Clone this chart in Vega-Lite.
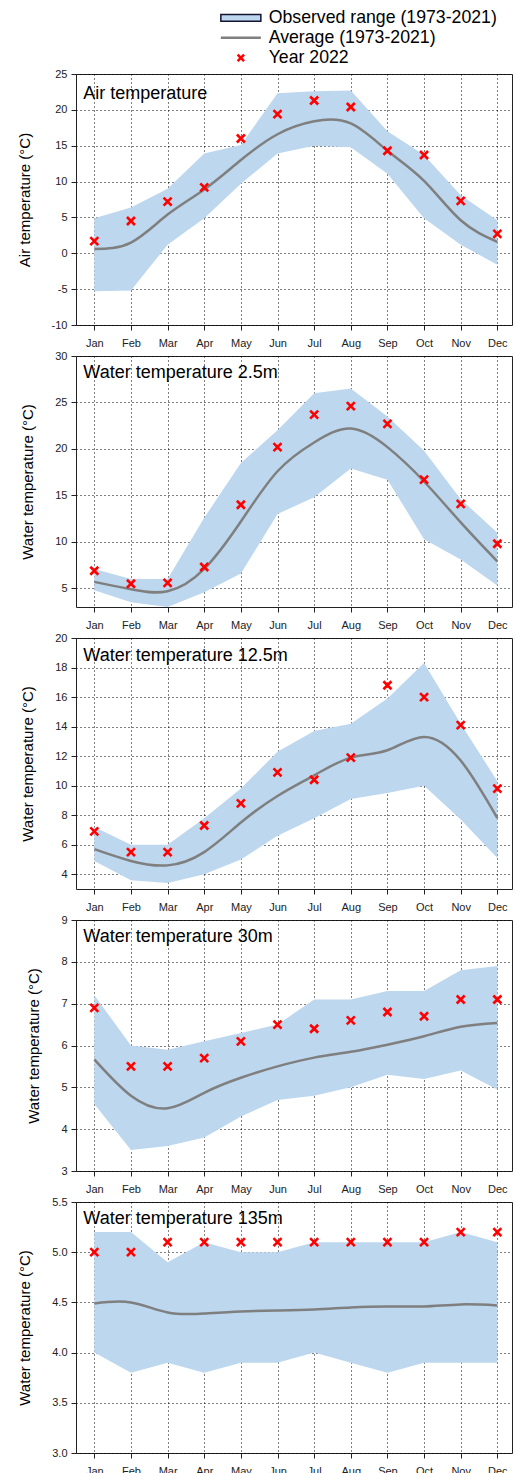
{
  "$schema": "https://vega.github.io/schema/vega-lite/v6.json",
  "autosize": {"type": "pad"},
  "padding": {"left": 16, "top": 9, "right": 4, "bottom": 0},
  "background": "white",
  "config": {
    "font": "Liberation Sans",
    "view": {"stroke": "#222", "strokeWidth": 1},
    "axis": {
      "labelFont": "Liberation Sans", "labelFontSize": 11, "labelColor": "#222",
      "titleFont": "Liberation Sans", "titleFontSize": 15, "titleFontWeight": "normal", "titleColor": "#000",
      "tickColor": "#222", "tickSize": 5, "domain": false,
      "grid": true, "gridColor": "#000", "gridDash": [1, 3], "gridOpacity": 1, "gridWidth": 1,
      "zindex": 1, "labelFlush": false, "labelOverlap": false
    },
    "axisY": {"labelPadding": 4, "titlePadding": 19},
    "axisX": {"labelPadding": 7},
    "legend": {"title": null, "orient": "none", "padding": 0, "labelFont": "Liberation Sans", "labelFontSize": 17.7, "labelColor": "#000", "labelLimit": 400, "symbolSize": 64, "labelOffset": 19, "symbolOpacity": 1}
  },
  "datasets": {
    "d": [
      {"panel": "air", "month": 1, "lo": -5.3, "hi": 4.9, "avg": 0.6, "y2022": 1.7},
      {"panel": "air", "month": 2, "lo": -5.2, "hi": 6.4, "avg": 1.5, "y2022": 4.5},
      {"panel": "air", "month": 3, "lo": 1.2, "hi": 9.0, "avg": 5.4, "y2022": 7.2},
      {"panel": "air", "month": 4, "lo": 4.9, "hi": 13.9, "avg": 8.9, "y2022": 9.2},
      {"panel": "air", "month": 5, "lo": 9.7, "hi": 15.1, "avg": 13.0, "y2022": 16.0},
      {"panel": "air", "month": 6, "lo": 13.9, "hi": 22.3, "avg": 16.6, "y2022": 19.4},
      {"panel": "air", "month": 7, "lo": 15.0, "hi": 22.6, "avg": 18.4, "y2022": 21.3},
      {"panel": "air", "month": 8, "lo": 14.8, "hi": 22.7, "avg": 18.1, "y2022": 20.4},
      {"panel": "air", "month": 9, "lo": 11.1, "hi": 17.0, "avg": 14.3, "y2022": 14.3},
      {"panel": "air", "month": 10, "lo": 4.9, "hi": 13.7, "avg": 10.1, "y2022": 13.7},
      {"panel": "air", "month": 11, "lo": 1.2, "hi": 8.1, "avg": 4.6, "y2022": 7.3},
      {"panel": "air", "month": 12, "lo": -1.6, "hi": 4.6, "avg": 1.6, "y2022": 2.7},
      {"panel": "w2", "month": 1, "lo": 4.8, "hi": 7.1, "avg": 5.7, "y2022": 6.9},
      {"panel": "w2", "month": 2, "lo": 3.5, "hi": 6.0, "avg": 4.9, "y2022": 5.5},
      {"panel": "w2", "month": 3, "lo": 3.0, "hi": 6.0, "avg": 4.7, "y2022": 5.6},
      {"panel": "w2", "month": 4, "lo": 4.6, "hi": 12.6, "avg": 7.1, "y2022": 7.3},
      {"panel": "w2", "month": 5, "lo": 6.6, "hi": 18.5, "avg": 12.2, "y2022": 14.0},
      {"panel": "w2", "month": 6, "lo": 13.0, "hi": 22.0, "avg": 17.6, "y2022": 20.2},
      {"panel": "w2", "month": 7, "lo": 14.8, "hi": 26.0, "avg": 20.7, "y2022": 23.7},
      {"panel": "w2", "month": 8, "lo": 17.9, "hi": 26.5, "avg": 22.2, "y2022": 24.6},
      {"panel": "w2", "month": 9, "lo": 16.7, "hi": 23.5, "avg": 20.2, "y2022": 22.7},
      {"panel": "w2", "month": 10, "lo": 10.3, "hi": 19.8, "avg": 16.5, "y2022": 16.7},
      {"panel": "w2", "month": 11, "lo": 8.1, "hi": 14.6, "avg": 12.1, "y2022": 14.1},
      {"panel": "w2", "month": 12, "lo": 5.3, "hi": 11.0, "avg": 7.9, "y2022": 9.8},
      {"panel": "w12", "month": 1, "lo": 4.9, "hi": 7.2, "avg": 5.7, "y2022": 6.9},
      {"panel": "w12", "month": 2, "lo": 3.6, "hi": 6.0, "avg": 4.9, "y2022": 5.5},
      {"panel": "w12", "month": 3, "lo": 3.4, "hi": 6.0, "avg": 4.6, "y2022": 5.5},
      {"panel": "w12", "month": 4, "lo": 4.0, "hi": 7.8, "avg": 5.5, "y2022": 7.3},
      {"panel": "w12", "month": 5, "lo": 5.0, "hi": 9.8, "avg": 7.5, "y2022": 8.8},
      {"panel": "w12", "month": 6, "lo": 6.6, "hi": 12.3, "avg": 9.3, "y2022": 10.9},
      {"panel": "w12", "month": 7, "lo": 7.8, "hi": 13.7, "avg": 10.7, "y2022": 10.4},
      {"panel": "w12", "month": 8, "lo": 9.1, "hi": 14.2, "avg": 11.9, "y2022": 11.9},
      {"panel": "w12", "month": 9, "lo": 9.5, "hi": 15.9, "avg": 12.4, "y2022": 16.8},
      {"panel": "w12", "month": 10, "lo": 10.0, "hi": 18.3, "avg": 13.3, "y2022": 16.0},
      {"panel": "w12", "month": 11, "lo": 7.7, "hi": 14.2, "avg": 11.7, "y2022": 14.1},
      {"panel": "w12", "month": 12, "lo": 5.1, "hi": 10.3, "avg": 7.8, "y2022": 9.8},
      {"panel": "w30", "month": 1, "lo": 4.6, "hi": 7.2, "avg": 5.67, "y2022": 6.9},
      {"panel": "w30", "month": 2, "lo": 3.5, "hi": 6.0, "avg": 4.8, "y2022": 5.5},
      {"panel": "w30", "month": 3, "lo": 3.6, "hi": 5.9, "avg": 4.5, "y2022": 5.5},
      {"panel": "w30", "month": 4, "lo": 3.8, "hi": 6.1, "avg": 4.87, "y2022": 5.7},
      {"panel": "w30", "month": 5, "lo": 4.3, "hi": 6.3, "avg": 5.23, "y2022": 6.1},
      {"panel": "w30", "month": 6, "lo": 4.7, "hi": 6.5, "avg": 5.5, "y2022": 6.5},
      {"panel": "w30", "month": 7, "lo": 4.8, "hi": 7.1, "avg": 5.71, "y2022": 6.4},
      {"panel": "w30", "month": 8, "lo": 5.0, "hi": 7.1, "avg": 5.85, "y2022": 6.6},
      {"panel": "w30", "month": 9, "lo": 5.3, "hi": 7.3, "avg": 6.02, "y2022": 6.8},
      {"panel": "w30", "month": 10, "lo": 5.2, "hi": 7.3, "avg": 6.22, "y2022": 6.7},
      {"panel": "w30", "month": 11, "lo": 5.4, "hi": 7.8, "avg": 6.45, "y2022": 7.1},
      {"panel": "w30", "month": 12, "lo": 4.95, "hi": 7.9, "avg": 6.54, "y2022": 7.1},
      {"panel": "w135", "month": 1, "lo": 4.0, "hi": 5.2, "avg": 4.49, "y2022": 5.0},
      {"panel": "w135", "month": 2, "lo": 3.8, "hi": 5.2, "avg": 4.5, "y2022": 5.0},
      {"panel": "w135", "month": 3, "lo": 3.9, "hi": 4.9, "avg": 4.4, "y2022": 5.1},
      {"panel": "w135", "month": 4, "lo": 3.8, "hi": 5.1, "avg": 4.39, "y2022": 5.1},
      {"panel": "w135", "month": 5, "lo": 3.9, "hi": 5.0, "avg": 4.41, "y2022": 5.1},
      {"panel": "w135", "month": 6, "lo": 3.9, "hi": 5.0, "avg": 4.42, "y2022": 5.1},
      {"panel": "w135", "month": 7, "lo": 4.0, "hi": 5.1, "avg": 4.43, "y2022": 5.1},
      {"panel": "w135", "month": 8, "lo": 3.9, "hi": 5.1, "avg": 4.45, "y2022": 5.1},
      {"panel": "w135", "month": 9, "lo": 3.8, "hi": 5.1, "avg": 4.46, "y2022": 5.1},
      {"panel": "w135", "month": 10, "lo": 3.9, "hi": 5.1, "avg": 4.46, "y2022": 5.1},
      {"panel": "w135", "month": 11, "lo": 3.9, "hi": 5.2, "avg": 4.48, "y2022": 5.2},
      {"panel": "w135", "month": 12, "lo": 3.9, "hi": 5.1, "avg": 4.47, "y2022": 5.2}
    ],
    "labels": [
      {"panel": "air", "label": "Air temperature"},
      {"panel": "w2", "label": "Water temperature 2.5m"},
      {"panel": "w12", "label": "Water temperature 12.5m"},
      {"panel": "w30", "label": "Water temperature 30m"},
      {"panel": "w135", "label": "Water temperature 135m"}
    ]
  },
  "spacing": 31,
  "bounds": "flush",
  "vconcat": [
    {
      "width": 436, "height": 251,
      "layer": [
        {
          "data": {"name": "d"}, "transform": [{"filter": "datum.panel == 'air'"}],
          "mark": {"type": "area", "opacity": 1, "clip": true},
          "encoding": {
            "x": {"field": "month", "type": "quantitative", "scale": {"domain": [0.5, 12.4], "nice": false, "zero": false},
                  "axis": {"values": [1,2,3,4,5,6,7,8,9,10,11,12], "tickCount": 50, "labelOverlap": false, "labelExpr": "['Jan','Feb','Mar','Apr','May','Jun','Jul','Aug','Sep','Oct','Nov','Dec'][datum.value-1]", "title": null}},
            "y": {"field": "lo", "type": "quantitative", "title": "Air temperature (°C)", "scale": {"domain": [-10, 25], "nice": false, "zero": false},
                  "axis": {"values": [-10,-5,0,5,10,15,20,25], "tickCount": 50, "labelOverlap": false, "labelExpr": "replace(format(datum.value, '.0f'), '−', '-')"}},
            "y2": {"field": "hi"},
            "fill": {"datum": "Observed range (1973-2021)", "type": "nominal",
              "scale": {"domain": ["Observed range (1973-2021)"], "range": ["#bdd7ee"]},
              "legend": {
                "legendX": 156, "legendY": -65,
                "symbolType": "M-5,-0.85H5V0.85H-5Z", "symbolStrokeColor": "#141432", "symbolStrokeWidth": 1.5, "symbolFillColor": "#bdd7ee"
              }
            }
          }
        },
        {
          "mark": {"type": "rule", "color": "#000", "strokeWidth": 1, "strokeDash": [12, 4]},
          "encoding": {"y": {"datum": 0}}
        },
        {
          "data": {"name": "d"}, "transform": [{"filter": "datum.panel == 'air'"}],
          "mark": {"type": "line", "interpolate": "natural", "strokeWidth": 2.5, "clip": true},
          "encoding": {
            "x": {"field": "month", "type": "quantitative"},
            "y": {"field": "avg", "type": "quantitative", "title": "Air temperature (°C)"},
            "stroke": {"datum": "Average (1973-2021)", "type": "nominal",
              "scale": {"domain": ["Average (1973-2021)"], "range": ["#7f7f7f"]},
              "legend": {"legendX": 156, "legendY": -45, "symbolType": "M-5,0H5", "symbolStrokeWidth": 2.5}
            }
          }
        },
        {
          "data": {"name": "d"}, "transform": [{"filter": "datum.panel == 'air'"}],
          "mark": {"type": "point", "shape": "M-1,-1L1,1M-1,1L1,-1", "size": 64, "strokeWidth": 2.6, "filled": false, "opacity": 1},
          "encoding": {
            "x": {"field": "month", "type": "quantitative"},
            "y": {"field": "y2022", "type": "quantitative", "title": "Air temperature (°C)"},
            "color": {"datum": "Year 2022", "type": "nominal",
              "scale": {"domain": ["Year 2022"], "range": ["#ff0000"]},
              "legend": {"legendX": 156, "legendY": -25, "symbolType": "M-0.8,-0.8L0.8,0.8M-0.8,0.8L0.8,-0.8", "symbolStrokeWidth": 2.6}
            }
          }
        },
        {
          "data": {"name": "labels"}, "transform": [{"filter": "datum.panel == 'air'"}],
          "mark": {"type": "text", "align": "left", "baseline": "alphabetic", "fontSize": 18, "font": "Liberation Sans", "color": "#000"},
          "encoding": {"x": {"datum": 0.7}, "y": {"datum": 21.5}, "text": {"field": "label"}}
        }
      ]
    },
    {
      "width": 436, "height": 251,
      "layer": [
        {
          "data": {"name": "d"}, "transform": [{"filter": "datum.panel == 'w2'"}],
          "mark": {"type": "area", "opacity": 1, "clip": true},
          "encoding": {
            "x": {"field": "month", "type": "quantitative", "scale": {"domain": [0.5, 12.4], "nice": false, "zero": false},
                  "axis": {"values": [1,2,3,4,5,6,7,8,9,10,11,12], "tickCount": 50, "labelOverlap": false, "labelExpr": "['Jan','Feb','Mar','Apr','May','Jun','Jul','Aug','Sep','Oct','Nov','Dec'][datum.value-1]", "title": null}},
            "y": {"field": "lo", "type": "quantitative", "title": "Water temperature (°C)", "scale": {"domain": [3, 30], "nice": false, "zero": false},
                  "axis": {"values": [5,10,15,20,25,30], "tickCount": 50, "labelOverlap": false, "format": ".0f"}},
            "y2": {"field": "hi"},
            "fill": {"datum": "Observed range (1973-2021)", "type": "nominal"}
          }
        },
        {
          "data": {"name": "d"}, "transform": [{"filter": "datum.panel == 'w2'"}],
          "mark": {"type": "line", "interpolate": "natural", "strokeWidth": 2.5, "clip": true},
          "encoding": {
            "x": {"field": "month", "type": "quantitative"},
            "y": {"field": "avg", "type": "quantitative", "title": "Water temperature (°C)"},
            "stroke": {"datum": "Average (1973-2021)", "type": "nominal"}
          }
        },
        {
          "data": {"name": "d"}, "transform": [{"filter": "datum.panel == 'w2'"}],
          "mark": {"type": "point", "shape": "M-1,-1L1,1M-1,1L1,-1", "size": 64, "strokeWidth": 2.6, "filled": false, "opacity": 1},
          "encoding": {
            "x": {"field": "month", "type": "quantitative"},
            "y": {"field": "y2022", "type": "quantitative", "title": "Water temperature (°C)"},
            "color": {"datum": "Year 2022", "type": "nominal"}
          }
        },
        {
          "data": {"name": "labels"}, "transform": [{"filter": "datum.panel == 'w2'"}],
          "mark": {"type": "text", "align": "left", "baseline": "alphabetic", "fontSize": 18, "font": "Liberation Sans", "color": "#000"},
          "encoding": {"x": {"datum": 0.7}, "y": {"datum": 27.6}, "text": {"field": "label"}}
        }
      ]
    },
    {
      "width": 436, "height": 251,
      "layer": [
        {
          "data": {"name": "d"}, "transform": [{"filter": "datum.panel == 'w12'"}],
          "mark": {"type": "area", "opacity": 1, "clip": true},
          "encoding": {
            "x": {"field": "month", "type": "quantitative", "scale": {"domain": [0.5, 12.4], "nice": false, "zero": false},
                  "axis": {"values": [1,2,3,4,5,6,7,8,9,10,11,12], "tickCount": 50, "labelOverlap": false, "labelExpr": "['Jan','Feb','Mar','Apr','May','Jun','Jul','Aug','Sep','Oct','Nov','Dec'][datum.value-1]", "title": null}},
            "y": {"field": "lo", "type": "quantitative", "title": "Water temperature (°C)", "scale": {"domain": [3, 20], "nice": false, "zero": false},
                  "axis": {"values": [4,6,8,10,12,14,16,18,20], "tickCount": 50, "labelOverlap": false, "format": ".0f"}},
            "y2": {"field": "hi"},
            "fill": {"datum": "Observed range (1973-2021)", "type": "nominal"}
          }
        },
        {
          "data": {"name": "d"}, "transform": [{"filter": "datum.panel == 'w12'"}],
          "mark": {"type": "line", "interpolate": "natural", "strokeWidth": 2.5, "clip": true},
          "encoding": {
            "x": {"field": "month", "type": "quantitative"},
            "y": {"field": "avg", "type": "quantitative", "title": "Water temperature (°C)"},
            "stroke": {"datum": "Average (1973-2021)", "type": "nominal"}
          }
        },
        {
          "data": {"name": "d"}, "transform": [{"filter": "datum.panel == 'w12'"}],
          "mark": {"type": "point", "shape": "M-1,-1L1,1M-1,1L1,-1", "size": 64, "strokeWidth": 2.6, "filled": false, "opacity": 1},
          "encoding": {
            "x": {"field": "month", "type": "quantitative"},
            "y": {"field": "y2022", "type": "quantitative", "title": "Water temperature (°C)"},
            "color": {"datum": "Year 2022", "type": "nominal"}
          }
        },
        {
          "data": {"name": "labels"}, "transform": [{"filter": "datum.panel == 'w12'"}],
          "mark": {"type": "text", "align": "left", "baseline": "alphabetic", "fontSize": 18, "font": "Liberation Sans", "color": "#000"},
          "encoding": {"x": {"datum": 0.7}, "y": {"datum": 18.46}, "text": {"field": "label"}}
        }
      ]
    },
    {
      "width": 436, "height": 251,
      "layer": [
        {
          "data": {"name": "d"}, "transform": [{"filter": "datum.panel == 'w30'"}],
          "mark": {"type": "area", "opacity": 1, "clip": true},
          "encoding": {
            "x": {"field": "month", "type": "quantitative", "scale": {"domain": [0.5, 12.4], "nice": false, "zero": false},
                  "axis": {"values": [1,2,3,4,5,6,7,8,9,10,11,12], "tickCount": 50, "labelOverlap": false, "labelExpr": "['Jan','Feb','Mar','Apr','May','Jun','Jul','Aug','Sep','Oct','Nov','Dec'][datum.value-1]", "title": null}},
            "y": {"field": "lo", "type": "quantitative", "title": "Water temperature (°C)", "scale": {"domain": [3, 9], "nice": false, "zero": false},
                  "axis": {"values": [3,4,5,6,7,8,9], "tickCount": 50, "labelOverlap": false, "format": ".0f"}},
            "y2": {"field": "hi"},
            "fill": {"datum": "Observed range (1973-2021)", "type": "nominal"}
          }
        },
        {
          "data": {"name": "d"}, "transform": [{"filter": "datum.panel == 'w30'"}],
          "mark": {"type": "line", "interpolate": "natural", "strokeWidth": 2.5, "clip": true},
          "encoding": {
            "x": {"field": "month", "type": "quantitative"},
            "y": {"field": "avg", "type": "quantitative", "title": "Water temperature (°C)"},
            "stroke": {"datum": "Average (1973-2021)", "type": "nominal"}
          }
        },
        {
          "data": {"name": "d"}, "transform": [{"filter": "datum.panel == 'w30'"}],
          "mark": {"type": "point", "shape": "M-1,-1L1,1M-1,1L1,-1", "size": 64, "strokeWidth": 2.6, "filled": false, "opacity": 1},
          "encoding": {
            "x": {"field": "month", "type": "quantitative"},
            "y": {"field": "y2022", "type": "quantitative", "title": "Water temperature (°C)"},
            "color": {"datum": "Year 2022", "type": "nominal"}
          }
        },
        {
          "data": {"name": "labels"}, "transform": [{"filter": "datum.panel == 'w30'"}],
          "mark": {"type": "text", "align": "left", "baseline": "alphabetic", "fontSize": 18, "font": "Liberation Sans", "color": "#000"},
          "encoding": {"x": {"datum": 0.7}, "y": {"datum": 8.47}, "text": {"field": "label"}}
        }
      ]
    },
    {
      "width": 436, "height": 251,
      "layer": [
        {
          "data": {"name": "d"}, "transform": [{"filter": "datum.panel == 'w135'"}],
          "mark": {"type": "area", "opacity": 1, "clip": true},
          "encoding": {
            "x": {"field": "month", "type": "quantitative", "scale": {"domain": [0.5, 12.4], "nice": false, "zero": false},
                  "axis": {"values": [1,2,3,4,5,6,7,8,9,10,11,12], "tickCount": 50, "labelOverlap": false, "labelExpr": "['Jan','Feb','Mar','Apr','May','Jun','Jul','Aug','Sep','Oct','Nov','Dec'][datum.value-1]", "title": null}},
            "y": {"field": "lo", "type": "quantitative", "title": "Water temperature (°C)", "scale": {"domain": [3, 5.5], "nice": false, "zero": false},
                  "axis": {"values": [3, 3.5, 4, 4.5, 5, 5.5], "tickCount": 50, "labelOverlap": false, "format": ".1f"}},
            "y2": {"field": "hi"},
            "fill": {"datum": "Observed range (1973-2021)", "type": "nominal"}
          }
        },
        {
          "data": {"name": "d"}, "transform": [{"filter": "datum.panel == 'w135'"}],
          "mark": {"type": "line", "interpolate": "natural", "strokeWidth": 2.5, "clip": true},
          "encoding": {
            "x": {"field": "month", "type": "quantitative"},
            "y": {"field": "avg", "type": "quantitative", "title": "Water temperature (°C)"},
            "stroke": {"datum": "Average (1973-2021)", "type": "nominal"}
          }
        },
        {
          "data": {"name": "d"}, "transform": [{"filter": "datum.panel == 'w135'"}],
          "mark": {"type": "point", "shape": "M-1,-1L1,1M-1,1L1,-1", "size": 64, "strokeWidth": 2.6, "filled": false, "opacity": 1},
          "encoding": {
            "x": {"field": "month", "type": "quantitative"},
            "y": {"field": "y2022", "type": "quantitative", "title": "Water temperature (°C)"},
            "color": {"datum": "Year 2022", "type": "nominal"}
          }
        },
        {
          "data": {"name": "labels"}, "transform": [{"filter": "datum.panel == 'w135'"}],
          "mark": {"type": "text", "align": "left", "baseline": "alphabetic", "fontSize": 18, "font": "Liberation Sans", "color": "#000"},
          "encoding": {"x": {"datum": 0.7}, "y": {"datum": 5.284}, "text": {"field": "label"}}
        }
      ]
    }
  ]
}
